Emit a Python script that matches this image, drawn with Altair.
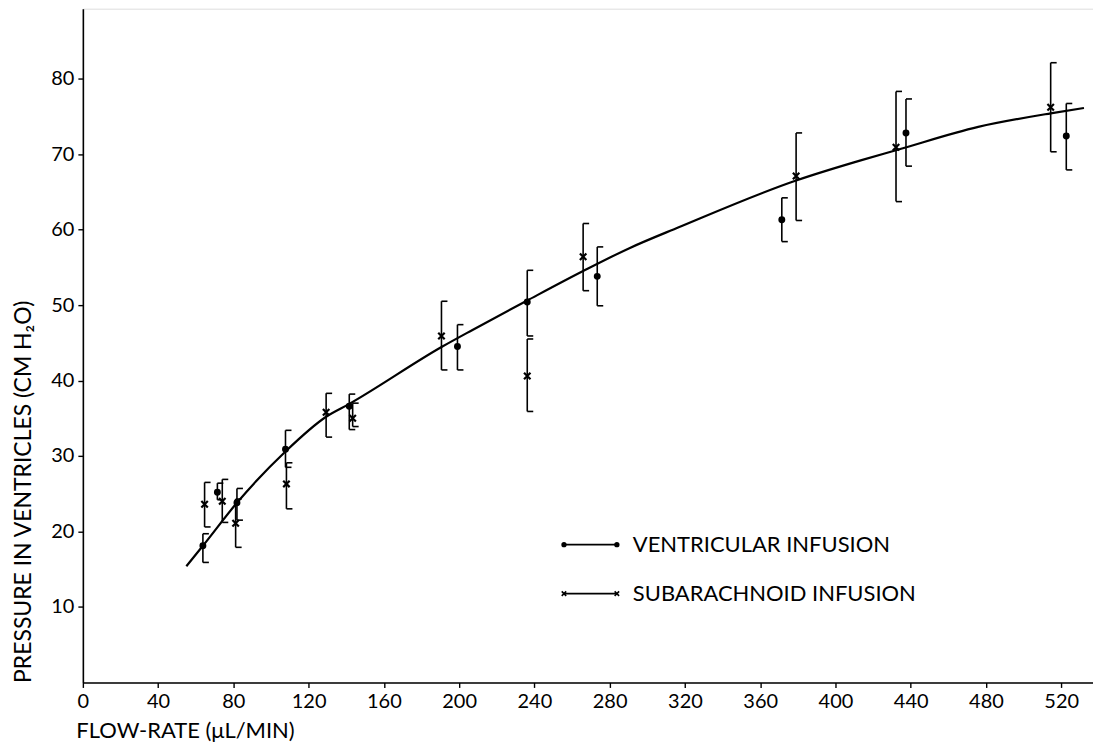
import altair as alt
import pandas as pd

# ---- data ----
series_names = ["VENTRICULAR INFUSION", "SUBARACHNOID INFUSION"]

vent_x = [63.8, 71.5, 81.9, 107.7, 141.6, 199.1, 236.2, 273.4, 371.5, 437.5, 522.7]
vent_y = [18.1, 25.2, 23.8, 30.9, 36.6, 44.5, 50.4, 53.8, 61.3, 72.8, 72.4]
vent_lo = [15.9, 24.2, 21.5, 28.5, 33.5, 41.4, 45.9, 49.9, 58.4, 68.4, 67.9]
vent_hi = [19.7, 26.4, 25.7, 33.4, 38.2, 47.4, 54.6, 57.7, 64.2, 77.3, 76.7]

sub_x = [64.7, 74.1, 81.2, 108.2, 129.3, 143.4, 190.6, 236.2, 265.9, 379.1, 432.2, 514.4]
sub_y = [23.6, 24.0, 21.1, 26.3, 35.8, 35.0, 45.9, 40.6, 56.4, 67.1, 70.9, 76.2]
sub_lo = [20.6, 21.2, 17.9, 23.0, 32.5, 33.9, 41.4, 35.9, 51.9, 61.2, 63.7, 70.3]
sub_hi = [26.5, 26.9, 24.3, 29.1, 38.3, 37.0, 50.5, 45.5, 60.8, 72.8, 78.3, 82.1]

curve_x = [55.0, 63.8, 81.9, 107.7, 129.3, 141.6, 191.1, 207.1, 236.2, 265.9,
           290.2, 316.7, 379.1, 413.9, 432.2, 475.9, 514.4, 532.1]
curve_y = [15.4, 18.1, 23.8, 30.6, 35.2, 36.9, 44.5, 46.7, 50.6, 54.5,
           57.5, 60.3, 66.5, 69.2, 70.5, 73.6, 75.4, 76.1]

x_ticks = list(range(0, 521, 40))
y_ticks = [10, 20, 30, 40, 50, 60, 70, 80]

X_TITLE = "FLOW-RATE (\u03bcL/MIN)"
Y_TITLE = "PRESSURE IN VENTRICLES (CM H\u2082O)"

# ---- tables ----
vent = pd.DataFrame({"x": vent_x, "y": vent_y, "lo": vent_lo, "hi": vent_hi})
sub = pd.DataFrame({"x": sub_x, "y": sub_y, "lo": sub_lo, "hi": sub_hi})
errs = pd.concat([vent, sub], ignore_index=True)
curve = pd.DataFrame({"x": curve_x, "y": curve_y})
one = pd.DataFrame({"k": [0]})

FONT = "Lato"
W, H = 1012, 675
XMAX, YMAX = 536.9, 89.26

xs = alt.Scale(domain=[0, XMAX], nice=False, zero=False)
ys = alt.Scale(domain=[0, YMAX], nice=False, zero=False)

x_axis = alt.Axis(values=x_ticks, title=X_TITLE, grid=False, labelFontSize=20,
                  labelFont=FONT, labelColor="black", tickColor="black",
                  domainColor="black", domainWidth=1.6, tickWidth=1.4, tickSize=5,
                  labelPadding=4, titleFont=FONT, titleFontSize=22,
                  titleFontWeight="normal", titleColor="black",
                  titleAnchor="start", titleAlign="left", titleX=-7, titleY=55,
                  titleBaseline="alphabetic", labelFlush=False)
y_axis = alt.Axis(values=y_ticks, title=Y_TITLE, grid=False, labelFontSize=20,
                  labelFont=FONT, labelColor="black", tickColor="black",
                  domainColor="black", domainWidth=1.6, tickWidth=1.4, tickSize=5,
                  labelPadding=4, titleFont=FONT, titleFontSize=23,
                  titleFontWeight="normal", titleColor="black",
                  titleAngle=-90, titleAlign="left", titleBaseline="alphabetic",
                  titleX=-52, titleY=H, labelFlush=False)

X = alt.X("x:Q", scale=xs, axis=x_axis)
Y = alt.Y("y:Q", scale=ys, axis=y_axis)

line = alt.Chart(curve).mark_line(color="black", strokeWidth=2.2,
                                  interpolate="monotone").encode(x=X, y=Y)

vbar = alt.Chart(errs).mark_rule(color="black", strokeWidth=1.6).encode(
    x=alt.X("x:Q", scale=xs), y=alt.Y("lo:Q", scale=ys), y2="hi:Q")
ttop = alt.Chart(errs).mark_rule(color="black", strokeWidth=1.6, x2Offset=6).encode(
    x=alt.X("x:Q", scale=xs), x2="x:Q", y=alt.Y("hi:Q", scale=ys))
tbot = alt.Chart(errs).mark_rule(color="black", strokeWidth=1.6, x2Offset=6).encode(
    x=alt.X("x:Q", scale=xs), x2="x:Q", y=alt.Y("lo:Q", scale=ys))

XSHAPE = "M-1,-1L1,1M-1,1L1,-1"

vpts = alt.Chart(vent).mark_point(shape="circle", filled=True, color="black",
                                  size=48, opacity=1).encode(
    x=alt.X("x:Q", scale=xs), y=alt.Y("y:Q", scale=ys))
spts = alt.Chart(sub).mark_point(shape=XSHAPE, filled=False, color="black",
                                 size=42, strokeWidth=2.2, opacity=1).encode(
    x=alt.X("x:Q", scale=xs), y=alt.Y("y:Q", scale=ys))

# ---- in-plot legend (layout in pixels) ----
L1Y, L2Y = 537, 586
LX0, LX1, LTX = 482, 535, 551
leg = []
for ly, shp, filled, sz in [(L1Y, "circle", True, 28), (L2Y, XSHAPE, False, 20)]:
    leg.append(alt.Chart(one).mark_rule(color="black", strokeWidth=1.8).encode(
        x=alt.value(LX0), x2=alt.value(LX1), y=alt.value(ly)))
    for px in (LX0, LX1):
        leg.append(alt.Chart(one).mark_point(shape=shp, filled=filled, color="black",
                                             size=sz, strokeWidth=1.6, opacity=1).encode(
            x=alt.value(px), y=alt.value(ly)))
for ly, name in [(L1Y, series_names[0]), (L2Y, series_names[1])]:
    leg.append(alt.Chart(one).mark_text(font=FONT, fontSize=22, color="black",
                                        align="left", baseline="middle").encode(
        x=alt.value(LTX), y=alt.value(ly), text=alt.value(name)))

chart = alt.layer(line, vbar, ttop, tbot, vpts, spts, *leg).properties(
    width=W, height=H,
    autosize=alt.AutoSizeParams(type="none"),
    padding={"left": 75, "top": 0, "right": 0, "bottom": 62},
).configure_view(stroke=None).configure(background="white")

chart.save("out.html", embed_options={"renderer": "svg", "actions": False})
